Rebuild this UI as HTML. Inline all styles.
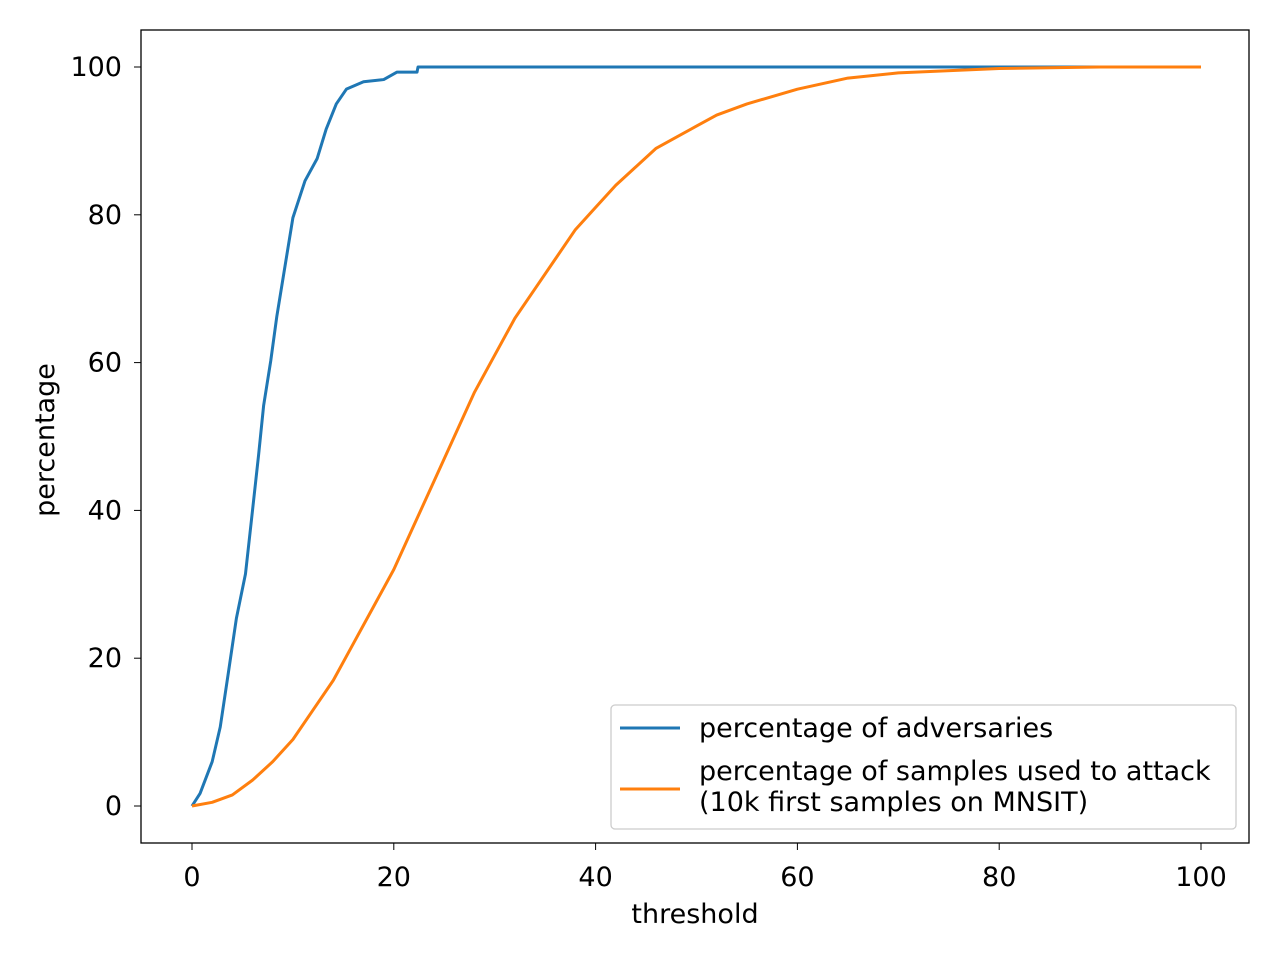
<!DOCTYPE html>
<html><head><meta charset="utf-8">
<style>
body{margin:0;background:#fff;}
svg text{font-family:"DejaVu Sans","Liberation Sans",sans-serif;font-size:27px;fill:#000;}
</style></head>
<body>
<svg id="chart" width="1280" height="960">
<rect x="141" y="30" width="1108" height="813" fill="#fff" stroke="#000" stroke-width="1.3"/>
<g id="xt"></g><g id="yt"></g>
<g id="lines"></g>
<text x="695" y="923" text-anchor="middle">threshold</text>
<text transform="translate(54,440) rotate(-90)" text-anchor="middle">percentage</text>
<g>
<rect x="611" y="705" width="625" height="124" rx="4" fill="#fff" fill-opacity="0.8" stroke="#ccc" stroke-width="1.3"/>
<g>
<line x1="620" y1="728" x2="680" y2="728" stroke="#1f77b4" stroke-width="3"/>
<text x="699" y="737">percentage of adversaries</text></g>
<g>
<line x1="620" y1="789" x2="680" y2="789" stroke="#ff7f0e" stroke-width="3"/>
<text x="699" y="780">percentage of samples used to attack</text>
<text x="699" y="811">(10k first samples on MNSIT)</text></g>
</g>
</svg>
<script>
const xTicks=[0,20,40,60,80,100];
const yTicks=[0,20,40,60,80,100];
const blueX=[0,0.8,2.0,2.8,3.6,4.4,5.3,5.9,6.6,7.1,7.8,8.4,9.2,10.0,11.2,12.4,13.3,14.3,15.3,17.0,19.0,20.3,22.3,22.4,100];
const blueY=[0,1.7,6,10.7,18,25.4,31.4,38.8,47.5,54.2,60.2,66.2,72.9,79.6,84.6,87.6,91.6,95,97,98,98.3,99.3,99.3,100,100];
const orangeX=[0,2,4,6,8,10,12,14,16,18,20,22,24,26,28,30,32,34,36,38,40,42,44,46,48,50,52,55,60,65,70,80,90,100];
const orangeY=[0,0.5,1.5,3.5,6,9,13,17,22,27,32,38,44,50,56,61,66,70,74,78,81,84,86.5,89,90.5,92,93.5,95,97,98.5,99.2,99.8,100,100];
const sx=v=>192+v*10.09, sy=v=>806-v*7.39;
const NS="http://www.w3.org/2000/svg";
const xt=document.getElementById('xt'), yt=document.getElementById('yt'), lg=document.getElementById('lines');
xTicks.forEach(t=>{
 const l=document.createElementNS(NS,'line');
 l.setAttribute('x1',sx(t));l.setAttribute('x2',sx(t));l.setAttribute('y1',843);l.setAttribute('y2',850);l.setAttribute('stroke','#000');
 
 
 xt.appendChild(l);
 const tx=document.createElementNS(NS,'text');
 tx.setAttribute('x',sx(t));tx.setAttribute('y',886);tx.setAttribute('text-anchor','middle');tx.textContent=t;
 
 
 xt.appendChild(tx);
});
yTicks.forEach(t=>{
 const l=document.createElementNS(NS,'line');
 l.setAttribute('x1',134);l.setAttribute('x2',141);l.setAttribute('y1',sy(t));l.setAttribute('y2',sy(t));l.setAttribute('stroke','#000');
 
 
 yt.appendChild(l);
 const tx=document.createElementNS(NS,'text');
 tx.setAttribute('x',122);tx.setAttribute('y',sy(t)+9);tx.setAttribute('text-anchor','end');tx.textContent=t;
 
 
 yt.appendChild(tx);
});
function line(xs,ys,c,name){
 const p=document.createElementNS(NS,'polyline');
 p.setAttribute('points',xs.map((x,i)=>sx(x)+','+sy(ys[i])).join(' '));
 p.setAttribute('fill','none');p.setAttribute('stroke',c);p.setAttribute('stroke-width',3);p.setAttribute('stroke-linejoin','round');
 
 
 lg.appendChild(p);
}
line(blueX,blueY,'#1f77b4','adversaries-line');
line(orangeX,orangeY,'#ff7f0e','samples-line');
</script>
</body></html>
